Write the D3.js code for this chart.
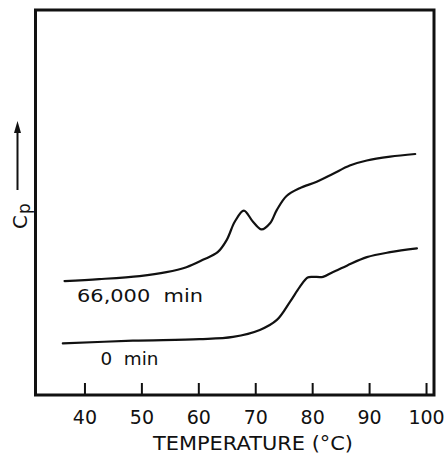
<!DOCTYPE html>
<html><head><meta charset="utf-8">
<script src="https://cdn.jsdelivr.net/npm/d3@7"></script>
<style>
html,body{margin:0;padding:0;background:#fff;}
svg{display:block;}
text{font-family:"DejaVu Sans",sans-serif;fill:#111;}
</style></head>
<body>
<svg id="c" width="445" height="453"></svg>
<script>
// Data (temperature in °C, Cp in arbitrary units)
const temp66000 = [36.5,42.6,49.7,54.4,57.9,60.8,63.4,65.0,66.4,68.0,69.6,71.1,72.6,73.8,75.5,77.8,80.8,83.6,86.6,89.6,93.7,98.1];
const cp66000   = [29.6,30.1,30.9,31.9,33.2,35.1,37.1,40.3,45.0,47.9,45.0,43.0,44.6,48.1,51.7,53.7,55.4,57.4,59.6,60.9,61.9,62.6];
const temp0 = [36.2,48.5,60.2,66.1,70.8,73.8,76.1,77.8,79.2,80.1,81.9,83.6,86.1,89.6,93.7,98.4];
const cp0   = [13.4,14.1,14.5,15.1,16.9,19.5,24.2,28.0,30.5,30.7,30.7,31.9,33.6,35.8,37.1,38.1];
const xTicks = [40,50,60,70,80,90,100];
const seriesLabels = ["66,000  min","0  min"];
const xTitle = "TEMPERATURE (°C)";

const svg = d3.select("#c");
const L=35.5, R=434, T=10, B=395;
const x = d3.scaleLinear().domain([31.4,101.4]).range([L,R]);
const y = d3.scaleLinear().domain([0,100]).range([B,T]);

// frame
svg.append("rect").attr("x",L).attr("y",T).attr("width",R-L).attr("height",B-T)
  .attr("fill","none").attr("stroke","#111").attr("stroke-width",3);

// x axis with inward ticks
const ax = svg.append("g").attr("transform",`translate(0,${B})`)
  .call(d3.axisBottom(x).tickValues(xTicks).tickSize(-12).tickPadding(0).tickFormat(d3.format("d")));
ax.select(".domain").remove();
ax.selectAll(".tick line").attr("stroke","#111").attr("stroke-width",2);
ax.selectAll(".tick text").attr("y",28.5).attr("dy",null).style("font-size","19px").attr("fill","#111");

svg.append("text").attr("x",153).attr("y",449.5)
  .attr("textLength",200).attr("lengthAdjust","spacingAndGlyphs")
  .style("font-size","19px").text(xTitle);

// curves
const line = d3.line().x(d=>x(d[0])).y(d=>y(d[1])).curve(d3.curveCatmullRom.alpha(0.5));
const s1 = temp66000.map((t,i)=>[t,cp66000[i]]);
const s0 = temp0.map((t,i)=>[t,cp0[i]]);
[s1,s0].forEach(s=>{
  svg.append("path").attr("d",line(s)).attr("fill","none").attr("stroke","#111")
    .attr("stroke-width",2.2).attr("stroke-linejoin","round").attr("stroke-linecap","round");
});

// series labels
svg.append("text").attr("x",77).attr("y",301.5).style("font-size","18.5px")
  .attr("textLength",126).attr("lengthAdjust","spacingAndGlyphs")
  .style("white-space","pre").attr("xml:space","preserve").text(seriesLabels[0]);
svg.append("text").attr("x",100.5).attr("y",365).style("font-size","18.5px")
  .attr("textLength",58).attr("lengthAdjust","spacingAndGlyphs")
  .style("white-space","pre").attr("xml:space","preserve").text(seriesLabels[1]);

// Cp label with arrow
const yl = svg.append("text").attr("transform","translate(27,229) rotate(-90)").style("font-size","20px");
yl.append("tspan").text("C");
yl.append("tspan").attr("dy",3).attr("dx",1).style("font-size","17px").text("p");
svg.append("line").attr("x1",17.5).attr("x2",17.5).attr("y1",190).attr("y2",130)
  .attr("stroke","#111").attr("stroke-width",2);
svg.append("path").attr("d","M17.5,121 L14,133 L21,133 Z").attr("fill","#111");
</script>
</body></html>
